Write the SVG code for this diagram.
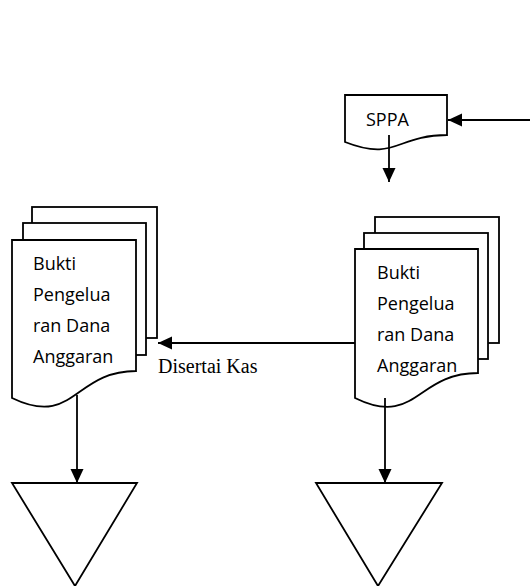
<svg xmlns="http://www.w3.org/2000/svg" width="530" height="586" viewBox="0 0 530 586">
<style>
.s{fill:#fff;stroke:#000;stroke-width:1.8}
.t{font-family:"Open Sans",sans-serif;font-size:18px;fill:#000}
.c{fill:none;stroke:#000;stroke-width:1.8}
.l{font-family:"Liberation Serif","Times New Roman",serif;font-size:20px;fill:#000}
</style>
<defs>
<marker id="ah" markerUnits="userSpaceOnUse" markerWidth="16" markerHeight="14" refX="14" refY="6.5" orient="auto">
<path d="M0,0 L14,6.5 L0,13 Z" fill="#000"/>
</marker>
</defs>
<rect width="530" height="586" fill="#fff"/>
<g id="sppa">
<path class="s" d="M345,95 H447 V135 C396,135 396,162 345,142 Z"/>
<text class="t" x="366" y="126">SPPA</text>
</g>
<g id="doc-left">
<rect class="s" x="32" y="207" width="125" height="131"/>
<rect class="s" x="23" y="223" width="123" height="132"/>
<path class="s" d="M12,240 H136 V371 C74,371 74,428 12,398 Z"/>
<text class="t" x="33" y="270">Bukti</text>
<text class="t" x="33" y="301">Pengelua</text>
<text class="t" x="33" y="332">ran Dana</text>
<text class="t" x="33" y="363">Anggaran</text>
</g>
<g id="doc-right">
<rect class="s" x="375" y="217" width="124" height="126"/>
<rect class="s" x="364" y="233" width="124" height="126"/>
<path class="s" d="M355,249 H478 V373 C416,373 416,428 355,398 Z"/>
<text class="t" x="377" y="279">Bukti</text>
<text class="t" x="377" y="310">Pengelua</text>
<text class="t" x="377" y="341">ran Dana</text>
<text class="t" x="377" y="372">Anggaran</text>
</g>
<g id="tri-left">
<path class="s" d="M12,483 H137 L75,586 Z"/>
</g>
<g id="tri-right">
<path class="s" d="M316,483 H442 L378,586 Z"/>
</g>
<g id="connectors">
<line class="c" x1="530" y1="120" x2="448" y2="120" marker-end="url(#ah)"/>
<line class="c" x1="389" y1="135" x2="389" y2="182" marker-end="url(#ah)"/>
<line class="c" x1="355" y1="343" x2="158" y2="343" marker-end="url(#ah)"/>
<text class="l" x="158" y="373">Disertai Kas</text>
<line class="c" x1="77" y1="395" x2="77" y2="483" marker-end="url(#ah)"/>
<line class="c" x1="385" y1="398" x2="385" y2="483" marker-end="url(#ah)"/>
</g>
</svg>
